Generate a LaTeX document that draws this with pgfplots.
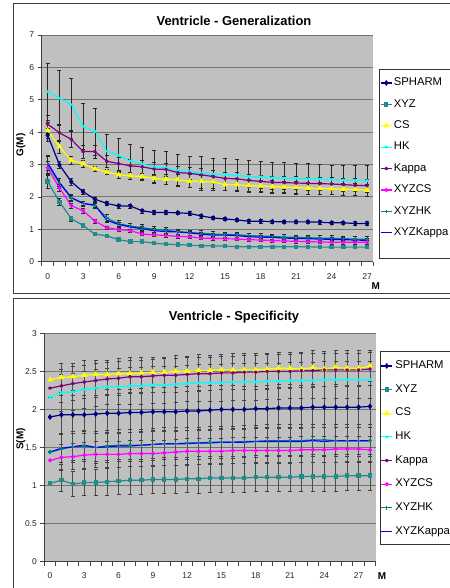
\documentclass[border=0pt]{standalone}
\usepackage{fontspec}
\setmainfont{Liberation Sans}
\usepackage{pgfplots}
\usepackage{pgfplotstable}
\pgfplotsset{compat=1.18}
\definecolor{plotgray}{RGB}{192,192,192}
\definecolor{cSPH}{RGB}{0,0,128}
\definecolor{cXYZ}{RGB}{32,140,140}
\definecolor{cCS}{RGB}{255,255,0}
\definecolor{cHK}{RGB}{0,255,255}
\definecolor{cKap}{RGB}{128,0,128}
\definecolor{cXCS}{RGB}{255,0,255}
\definecolor{cXHK}{RGB}{0,128,128}
\definecolor{cXKap}{RGB}{0,0,255}

\pgfplotstableread{
M S eS X eX C eC H eH K eK XC eXC XH eXH XK eXK
0 3.91 0.20 2.48 0.20 4.05 0.25 5.25 0.87 4.25 0.28 2.90 0.20 3.00 0.28 3.05 0.22
1 2.99 0.12 1.85 0.10 3.55 0.20 5.05 0.85 3.98 0.25 2.28 0.12 2.42 0.15 2.45 0.12
2 2.47 0.10 1.33 0.07 3.13 0.12 4.85 0.80 3.78 0.25 1.73 0.08 1.97 0.10 1.98 0.08
3 2.16 0.08 1.12 0.05 3.03 0.10 4.18 0.70 3.40 0.20 1.57 0.08 1.80 0.08 1.80 0.07
4 1.93 0.07 0.85 0.04 2.87 0.08 4.02 0.73 3.40 0.20 1.26 0.06 1.73 0.08 1.75 0.07
5 1.80 0.06 0.80 0.04 2.77 0.08 3.42 0.52 3.10 0.20 1.05 0.05 1.35 0.10 1.28 0.06
6 1.72 0.06 0.68 0.03 2.69 0.10 3.28 0.52 3.03 0.20 0.99 0.05 1.17 0.10 1.15 0.06
7 1.72 0.06 0.62 0.03 2.65 0.10 3.12 0.50 2.96 0.20 0.96 0.05 1.10 0.10 1.07 0.06
8 1.57 0.06 0.62 0.03 2.63 0.10 3.02 0.50 2.93 0.20 0.85 0.05 1.05 0.10 1.02 0.06
9 1.52 0.06 0.57 0.03 2.57 0.12 2.93 0.52 2.86 0.20 0.83 0.05 1.00 0.10 0.96 0.06
10 1.52 0.06 0.54 0.03 2.55 0.15 2.90 0.50 2.85 0.20 0.81 0.05 0.97 0.08 0.93 0.06
11 1.51 0.06 0.53 0.03 2.53 0.18 2.82 0.50 2.75 0.20 0.78 0.05 0.93 0.08 0.92 0.06
12 1.49 0.06 0.51 0.03 2.49 0.20 2.78 0.48 2.73 0.20 0.77 0.05 0.90 0.08 0.89 0.06
13 1.41 0.06 0.49 0.03 2.48 0.20 2.74 0.52 2.68 0.20 0.73 0.05 0.88 0.08 0.85 0.06
14 1.35 0.05 0.49 0.03 2.46 0.20 2.70 0.50 2.63 0.20 0.72 0.05 0.85 0.08 0.82 0.06
15 1.32 0.05 0.48 0.03 2.38 0.18 2.69 0.50 2.57 0.20 0.71 0.05 0.84 0.08 0.82 0.06
16 1.29 0.05 0.46 0.03 2.38 0.18 2.66 0.49 2.56 0.20 0.70 0.05 0.83 0.08 0.81 0.06
17 1.25 0.05 0.46 0.03 2.35 0.18 2.63 0.49 2.51 0.20 0.68 0.05 0.81 0.08 0.77 0.06
18 1.25 0.05 0.46 0.03 2.34 0.18 2.62 0.48 2.48 0.20 0.67 0.05 0.79 0.08 0.76 0.06
19 1.24 0.05 0.46 0.03 2.32 0.18 2.59 0.48 2.45 0.20 0.65 0.05 0.78 0.08 0.75 0.06
20 1.23 0.05 0.46 0.03 2.31 0.18 2.58 0.48 2.44 0.20 0.64 0.05 0.76 0.08 0.73 0.06
21 1.23 0.05 0.46 0.03 2.29 0.18 2.57 0.48 2.43 0.20 0.63 0.05 0.75 0.08 0.72 0.06
22 1.23 0.05 0.46 0.03 2.27 0.18 2.56 0.47 2.42 0.20 0.62 0.05 0.74 0.08 0.71 0.06
23 1.22 0.05 0.45 0.03 2.26 0.18 2.55 0.46 2.41 0.20 0.61 0.05 0.73 0.08 0.70 0.06
24 1.20 0.05 0.45 0.03 2.25 0.18 2.53 0.46 2.40 0.20 0.60 0.05 0.72 0.08 0.69 0.06
25 1.20 0.05 0.45 0.03 2.24 0.18 2.52 0.46 2.38 0.20 0.60 0.05 0.71 0.08 0.68 0.06
26 1.18 0.06 0.45 0.03 2.23 0.18 2.51 0.47 2.36 0.20 0.60 0.05 0.70 0.08 0.67 0.06
27 1.18 0.06 0.45 0.03 2.21 0.18 2.50 0.47 2.35 0.20 0.60 0.05 0.69 0.08 0.66 0.06
}\gdata

\pgfplotstableread{
M S eS X eX C eC H eH K eK XC eXC XH eXH XK eXK
0 1.90 0 1.03 0 2.39 0 2.16 0 2.28 0 1.33 0 1.44 0 1.44 0
1 1.93 0.25 1.07 0.14 2.42 0.19 2.22 0.24 2.31 0.22 1.37 0.17 1.48 0.20 1.49 0.18
2 1.93 0.25 1.02 0.16 2.43 0.18 2.23 0.24 2.34 0.22 1.38 0.17 1.51 0.20 1.51 0.18
3 1.93 0.25 1.04 0.17 2.45 0.19 2.26 0.24 2.36 0.22 1.40 0.17 1.52 0.20 1.53 0.18
4 1.94 0.25 1.04 0.17 2.46 0.18 2.28 0.24 2.38 0.22 1.41 0.17 1.50 0.21 1.50 0.18
5 1.95 0.25 1.05 0.18 2.46 0.19 2.30 0.24 2.40 0.22 1.41 0.17 1.52 0.21 1.51 0.18
6 1.95 0.26 1.06 0.18 2.47 0.20 2.30 0.24 2.41 0.22 1.41 0.17 1.53 0.21 1.52 0.18
7 1.96 0.26 1.07 0.18 2.47 0.21 2.31 0.24 2.43 0.22 1.42 0.17 1.53 0.21 1.52 0.18
8 1.96 0.26 1.07 0.18 2.48 0.20 2.31 0.24 2.43 0.22 1.42 0.17 1.53 0.21 1.53 0.18
9 1.97 0.26 1.08 0.18 2.49 0.20 2.32 0.24 2.44 0.22 1.42 0.17 1.54 0.21 1.54 0.18
10 1.97 0.26 1.08 0.18 2.49 0.20 2.32 0.24 2.45 0.22 1.43 0.17 1.55 0.21 1.55 0.18
11 1.97 0.26 1.08 0.18 2.50 0.21 2.33 0.24 2.45 0.22 1.44 0.17 1.55 0.21 1.55 0.18
12 1.98 0.26 1.09 0.18 2.50 0.20 2.34 0.24 2.46 0.22 1.45 0.17 1.56 0.21 1.55 0.18
13 1.98 0.26 1.09 0.19 2.51 0.21 2.35 0.24 2.47 0.22 1.45 0.17 1.56 0.21 1.56 0.18
14 1.99 0.26 1.10 0.19 2.51 0.20 2.35 0.24 2.47 0.22 1.45 0.17 1.57 0.21 1.56 0.18
15 2.00 0.26 1.10 0.19 2.52 0.20 2.35 0.24 2.48 0.22 1.45 0.17 1.57 0.21 1.57 0.18
16 2.00 0.26 1.10 0.19 2.52 0.21 2.36 0.24 2.48 0.22 1.46 0.17 1.57 0.21 1.57 0.18
17 2.00 0.26 1.10 0.19 2.52 0.22 2.36 0.24 2.49 0.22 1.46 0.17 1.58 0.21 1.57 0.18
18 2.01 0.26 1.11 0.19 2.52 0.22 2.36 0.24 2.49 0.22 1.46 0.17 1.58 0.21 1.58 0.18
19 2.01 0.26 1.11 0.19 2.53 0.21 2.37 0.24 2.50 0.22 1.46 0.17 1.59 0.21 1.58 0.18
20 2.02 0.27 1.11 0.19 2.54 0.21 2.37 0.24 2.50 0.22 1.46 0.17 1.59 0.21 1.58 0.18
21 2.02 0.27 1.11 0.19 2.54 0.21 2.38 0.24 2.50 0.22 1.46 0.17 1.59 0.21 1.58 0.18
22 2.02 0.27 1.12 0.19 2.53 0.22 2.38 0.24 2.51 0.22 1.47 0.17 1.59 0.21 1.58 0.18
23 2.03 0.27 1.12 0.19 2.55 0.22 2.38 0.24 2.51 0.22 1.47 0.17 1.60 0.21 1.59 0.18
24 2.03 0.27 1.12 0.19 2.53 0.23 2.39 0.24 2.52 0.22 1.47 0.17 1.60 0.21 1.58 0.18
25 2.03 0.27 1.12 0.19 2.55 0.22 2.39 0.24 2.52 0.22 1.48 0.17 1.59 0.21 1.59 0.18
26 2.03 0.27 1.13 0.19 2.54 0.23 2.39 0.24 2.52 0.22 1.48 0.17 1.59 0.21 1.59 0.18
27 2.03 0.27 1.13 0.19 2.54 0.23 2.39 0.24 2.52 0.22 1.48 0.17 1.59 0.21 1.59 0.18
28 2.04 0.27 1.13 0.19 2.57 0.20 2.39 0.24 2.53 0.22 1.47 0.17 1.59 0.21 1.59 0.18
}\sdata

\pgfplotsset{
  exc/.style={
    scale only axis,
    axis background/.style={fill=plotgray},
    axis lines*=left,
    axis line style={-, draw=black!75, line width=0.8bp},
    tick align=outside,
    major tick length=4bp,
    minor tick length=4bp,
    major x tick style={draw=none},
    minor x tick style={draw=black!75, line width=0.8bp},
    ytick style={draw=black!75, line width=0.8bp},
    ymajorgrids,
    major grid style={draw=black!55, line width=0.9bp},
    tick label style={font=\fontsize{8.5}{10}\selectfont, text=black!85},
    /pgf/number format/assume math mode=true,
    legend cell align=left,
    legend image code/.code={\draw[mark repeat=2,mark phase=2] plot coordinates {(0bp,0bp) (5.5bp,0bp) (11bp,0bp)};},
    every axis title/.style={anchor=base, font=\bfseries\fontsize{13}{15}\selectfont},
    xlabel style={anchor=center, font=\bfseries\fontsize{10}{12}\selectfont},
    ylabel style={anchor=center, font=\bfseries\fontsize{10}{12}\selectfont},
    every axis plot/.append style={line width=1.2bp},
    error bars/y dir=both,
    error bars/y explicit,
  },
}

\begin{document}
\begin{tikzpicture}
\useasboundingbox (0,0) rectangle (450bp,-588bp);
\clip (0,0) rectangle (450bp,-588bp);
\fill[white] (0,0) rectangle (450bp,-588bp);
\draw[black!75, line width=0.8bp] (13.3bp,-3.3bp) rectangle (470bp,-293.3bp);
\draw[black!75, line width=0.8bp] (13.3bp,-298bp) rectangle (470bp,-610bp);
\draw[black!80, line width=0.8bp, fill=white] (379bp,-69bp) rectangle (470bp,-258bp);
\draw[black!80, line width=0.8bp, fill=white] (380.7bp,-351.7bp) rectangle (470bp,-544bp);

\begin{axis}[exc,
  at={(41.7bp,-261.7bp)}, anchor=south west,
  width=331.3bp, height=226.7bp,
  xmin=-0.5, xmax=27.5, ymin=0, ymax=7,
  ytick={0,...,7},
  xtick={0,3,...,27},
  minor xtick={-0.5,0.5,...,27.5},
  xticklabel style={yshift=-4bp},
  error bars/error bar style={black!85, line width=0.6bp, solid},
  error bars/error mark options={rotate=90, mark size=2bp, black!85, line width=0.6bp, solid},
  title={Ventricle - Generalization},
  title style={at={(axis description cs:0.5804,1.0441)}},
  xlabel={M},
  xlabel style={at={(axis description cs:1.0081,-0.107)}},
  ylabel={G(M)},
  ylabel style={at={(axis description cs:-0.0634,0.5148)}},
  legend style={at={(axis description cs:1.0211,0.819)}, anchor=north west,
    draw=none, fill=none, inner sep=0pt, font=\fontsize{11.3}{13}\selectfont,
    row sep=7.9bp, nodes={inner sep=1.5bp, text height=8bp, text depth=2.5bp}},
]
\addplot[cSPH, mark=diamond*, mark size=2bp, mark options={solid, fill=cSPH}] table[x=M, y=S, y error=eS] {\gdata};
\addlegendentry{SPHARM}
\addplot[cXYZ, mark=square*, mark size=1.6bp, mark options={solid, fill=cXYZ}] table[x=M, y=X, y error=eX] {\gdata};
\addlegendentry{XYZ}
\addplot[cCS, mark=triangle*, mark size=2.2bp, mark options={solid, fill=cCS}] table[x=M, y=C, y error=eC] {\gdata};
\addlegendentry{CS}
\addplot[cHK, mark=x, mark size=1.6bp, mark options={solid}] table[x=M, y=H, y error=eH] {\gdata};
\addlegendentry{HK}
\addplot[cKap, mark=asterisk, mark size=1.6bp, mark options={solid}] table[x=M, y=K, y error=eK] {\gdata};
\addlegendentry{Kappa}
\addplot[cXCS, mark=*, mark size=1.4bp, mark options={solid, fill=cXCS}] table[x=M, y=XC, y error=eXC] {\gdata};
\addlegendentry{XYZCS}
\addplot[cXHK, mark=+, mark size=1.8bp, mark options={solid}] table[x=M, y=XH, y error=eXH] {\gdata};
\addlegendentry{XYZHK}
\addplot[color=cXKap, draw=cXKap, mark=none] table[x=M, y=XK, y error=eXK] {\gdata};
\addlegendentry{XYZKappa}
\end{axis}

\begin{axis}[exc,
  at={(44.3bp,-561.7bp)}, anchor=south west,
  width=331.4bp, height=228.4bp,
  xmin=-0.5, xmax=28.5, ymin=0, ymax=3,
  ytick={0,0.5,...,3},
  xtick={0,3,...,27},
  minor xtick={-0.5,0.5,...,28.5},
  xticklabel style={yshift=-3.5bp},
  error bars/error bar style={black!70, line width=0.75bp, solid},
  error bars/error mark options={rotate=90, mark size=2bp, black!75, line width=0.75bp, solid},
  title={Ventricle - Specificity},
  title style={at={(axis description cs:0.5724,1.0582)}},
  xlabel={M},
  xlabel style={at={(axis description cs:1.019,-0.0613)}},
  ylabel={S(M)},
  ylabel style={at={(axis description cs:-0.0712,0.537)}},
  legend style={at={(axis description cs:1.0145,0.8877)}, anchor=north west,
    draw=none, fill=none, inner sep=0pt, font=\fontsize{11.3}{13}\selectfont,
    row sep=10.16bp, column sep=1bp, nodes={inner sep=1.5bp, text height=8bp, text depth=2.5bp}},
]
\addplot[cSPH, mark=diamond*, mark size=2bp, mark options={solid, fill=cSPH}] table[x=M, y=S, y error=eS] {\sdata};
\addlegendentry{SPHARM}
\addplot[cXYZ, mark=square*, mark size=1.6bp, mark options={solid, fill=cXYZ}] table[x=M, y=X, y error=eX] {\sdata};
\addlegendentry{XYZ}
\addplot[cCS, mark=triangle*, mark size=2.2bp, mark options={solid, fill=cCS}] table[x=M, y=C, y error=eC] {\sdata};
\addlegendentry{CS}
\addplot[cHK, mark=x, mark size=1.6bp, mark options={solid}] table[x=M, y=H, y error=eH] {\sdata};
\addlegendentry{HK}
\addplot[cKap, mark=asterisk, mark size=1.6bp, mark options={solid}] table[x=M, y=K, y error=eK] {\sdata};
\addlegendentry{Kappa}
\addplot[cXCS, mark=*, mark size=1.4bp, mark options={solid, fill=cXCS}] table[x=M, y=XC, y error=eXC] {\sdata};
\addlegendentry{XYZCS}
\addplot[cXHK, mark=+, mark size=1.8bp, mark options={solid}] table[x=M, y=XH, y error=eXH] {\sdata};
\addlegendentry{XYZHK}
\addplot[color=cXKap, draw=cXKap, mark=none] table[x=M, y=XK, y error=eXK] {\sdata};
\addlegendentry{XYZKappa}
\end{axis}
\end{tikzpicture}
\end{document}
